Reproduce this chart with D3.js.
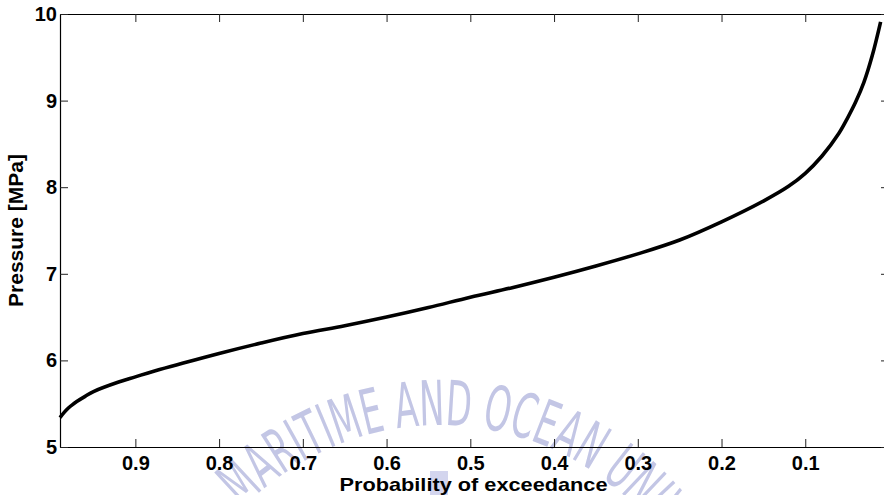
<!DOCTYPE html>
<html>
<head>
<meta charset="utf-8">
<script src="https://cdn.jsdelivr.net/npm/d3@7"></script>
<style>
  html, body { margin: 0; padding: 0; background: #fff; }
  svg { display: block; }
</style>
</head>
<body>
<svg id="chart" width="884" height="495"></svg>
<script>
// Probability of exceedance vs. pressure
const probability = [0.99, 0.985, 0.98, 0.975, 0.97, 0.96, 0.95, 0.92, 0.90, 0.88, 0.85, 0.80, 0.75,
                     0.70, 0.65, 0.60, 0.55, 0.50, 0.45, 0.40, 0.35, 0.30, 0.25,
                     0.20, 0.15, 0.12, 0.10, 0.08, 0.06, 0.05, 0.04, 0.03, 0.02, 0.01];
const pressure    = [5.34, 5.40, 5.45, 5.49, 5.525, 5.585, 5.64, 5.75, 5.81, 5.87, 5.95, 6.08, 6.20,
                     6.31, 6.40, 6.50, 6.61, 6.73, 6.84, 6.96, 7.09, 7.23, 7.39,
                     7.60, 7.84, 8.01, 8.16, 8.36, 8.62, 8.79, 8.98, 9.21, 9.52, 9.91];
const xTicks = [0.9, 0.8, 0.7, 0.6, 0.5, 0.4, 0.3, 0.2, 0.1];
const yTicks = [5, 6, 7, 8, 9, 10];
const xLabel = "Probability of exceedance";
const yLabel = "Pressure [MPa]";
const watermarkText = "MARITIME AND OCEAN UNIVERSITY";

const svg = d3.select("#chart");
const plotLeft = 60, plotRight = 889, plotTop = 14, plotBottom = 447;
const fontFamily = "'Liberation Sans', Arial, sans-serif";

const x = d3.scaleLinear().domain([0.99, 0]).range([plotLeft, plotRight]);
const y = d3.scaleLinear().domain([5, 10]).range([plotBottom, plotTop]);

// faint emblem lettering in the background
const wm = svg.append("g").attr("class", "watermark");
const cx = 440, cy = 700, r = 275;
wm.append("path")
  .attr("id", "wmArc")
  .attr("fill", "none")
  .attr("d", `M ${cx - r} ${cy} A ${r} ${r} 0 0 1 ${cx + r} ${cy}`);
wm.append("text")
  .attr("font-family", "'Liberation Sans Narrow', 'DejaVu Sans Condensed', sans-serif")
  .attr("font-size", 62)
  .attr("fill", "#c3c6e5")
  .append("textPath")
  .attr("href", "#wmArc")
  .attr("startOffset", 212)
  .attr("textLength", 590)
  .attr("lengthAdjust", "spacingAndGlyphs")
  .text(watermarkText);
wm.append("rect")
  .attr("x", 430).attr("y", 471).attr("width", 18).attr("height", 24)
  .attr("fill", "#d3d5ee");

// style axis groups: bold labels, thin inward ticks
function styleAxis(g) {
  g.select("path.domain").attr("stroke", "#000").attr("stroke-width", 1.2);
  g.selectAll(".tick line").attr("stroke", "#222").attr("stroke-width", 1);
  g.selectAll(".tick text")
    .attr("font-family", fontFamily)
    .attr("font-weight", "bold")
    .attr("font-size", 20)
    .attr("fill", "#000");
}

// axes (ticks point inward, box on all four sides)
svg.append("g")
  .attr("transform", `translate(0,${plotBottom})`)
  .call(d3.axisBottom(x).tickValues(xTicks).tickSizeInner(-8).tickSizeOuter(0)
        .tickPadding(9).tickFormat(d3.format(".1f")))
  .call(styleAxis);
svg.append("g")
  .attr("transform", `translate(0,${plotTop})`)
  .call(d3.axisTop(x).tickValues(xTicks).tickSizeInner(-8).tickSizeOuter(0).tickFormat(""))
  .call(styleAxis);
svg.append("g")
  .attr("transform", `translate(${plotLeft},0)`)
  .call(d3.axisLeft(y).tickValues(yTicks).tickSizeInner(-8).tickSizeOuter(0)
        .tickPadding(3).tickFormat(d3.format("d")))
  .call(styleAxis);
svg.append("g")
  .attr("transform", `translate(${plotRight},0)`)
  .call(d3.axisRight(y).tickValues(yTicks).tickSizeInner(-8).tickSizeOuter(0).tickFormat(""))
  .call(styleAxis);

// curve
const data = probability.map((p, i) => ({ p, v: pressure[i] }));
svg.append("path")
  .datum(data)
  .attr("fill", "none")
  .attr("stroke", "#000")
  .attr("stroke-width", 3.6)
  .attr("stroke-linejoin", "round")
  .attr("d", d3.line().x(d => x(d.p)).y(d => y(d.v)).curve(d3.curveCatmullRom.alpha(0.5)));

// axis titles
svg.append("text")
  .attr("x", (plotLeft + plotRight) / 2 - 1)
  .attr("y", 491)
  .attr("text-anchor", "middle")
  .attr("font-family", fontFamily)
  .attr("font-weight", "bold")
  .attr("font-size", 19)
  .attr("textLength", 268)
  .attr("lengthAdjust", "spacingAndGlyphs")
  .text(xLabel);
svg.append("text")
  .attr("transform", `translate(23,${(plotTop + plotBottom) / 2}) rotate(-90)`)
  .attr("text-anchor", "middle")
  .attr("font-family", fontFamily)
  .attr("font-weight", "bold")
  .attr("font-size", 21)
  .text(yLabel);
</script>
</body>
</html>
